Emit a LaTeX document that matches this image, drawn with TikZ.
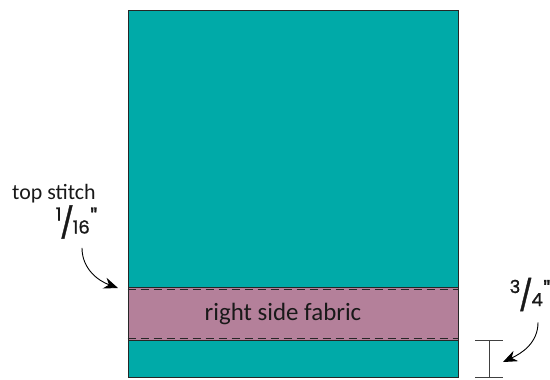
\documentclass[tikz,border=0pt]{standalone}
\usepackage{fontspec}
\setmainfont{Carlito}
\newfontfamily\fracfont[FakeBold=1.2]{Poppins}
\usetikzlibrary{arrows.meta,positioning}
\definecolor{panelteal}{RGB}{0,170,168}
\definecolor{bandmauve}{RGB}{180,128,154}
\newcommand\handfrac[2]{{\fracfont\fontsize{18}{20}\selectfont
  \raisebox{13bp}{#1}\kern-1.5bp{\fontsize{30}{32}\selectfont/}\kern-1.5bp#2\kern0.5bp\raisebox{7bp}{\fontsize{24}{26}\selectfont\char"22}}}

\begin{document}
\begin{tikzpicture}[
  x=1bp, y=-1bp,
  panel/.style={draw=black!85, line width=0.9bp, fill=panelteal},
  band/.style={draw=black!85, line width=0.9bp, fill=bandmauve,
               minimum width=330bp, minimum height=53bp, inner sep=0pt},
  stitch/.style={draw=black!85, dash pattern=on 8bp off 5bp, line width=0.8bp},
  note/.style={inner sep=0pt, text=black!90},
  ibar/.style={draw=black!75, line width=0.9bp},
  arr/.style={-{Stealth[length=5mm,width=4mm]}, line width=0.9bp}
]
\useasboundingbox (0,0) rectangle (550,379);
% fabric panel and strip
\draw[panel] (128,10) rectangle (458,377);
\node[band] (band) at (293,313.5) {};
\draw[stitch] ([yshift=-3bp]band.north west) -- ([yshift=-3bp]band.north east);
\draw[stitch] ([yshift=2.5bp]band.south west) -- ([yshift=2.5bp]band.south east);
\node[note, font=\fontsize{25}{28}\selectfont] (side) at (283,314) {right side fabric};
% seam allowance marker
\coordinate (barT) at (489,340);
\coordinate (barB) at (489,377);
\draw[ibar] ([xshift=-14bp]barT) -- ([xshift=14bp]barT);
\draw[ibar] ([xshift=-14bp]barB) -- ([xshift=14bp]barB);
\draw[ibar] (barT) -- (barB);
% labels
\node[note, font=\fontsize{22}{26}\selectfont] (topstitch) at (54,194) {top stitch};
\node[note] (sixteenth) at (76.5,222) {\handfrac{1}{16}};
\node[note] (quarter) at (530,294.5) {\handfrac{3}{4}};
\coordinate (tipL) at (118,288);
\coordinate (tipR) at (503,362);
\draw[arr] ([xshift=5.5bp,yshift=-9bp]sixteenth.south) to[out=-90, in=160] (tipL);
\draw[arr] ([xshift=8bp,yshift=-11bp]quarter.south) to[out=-90, in=25] (tipR);
\end{tikzpicture}
\end{document}
